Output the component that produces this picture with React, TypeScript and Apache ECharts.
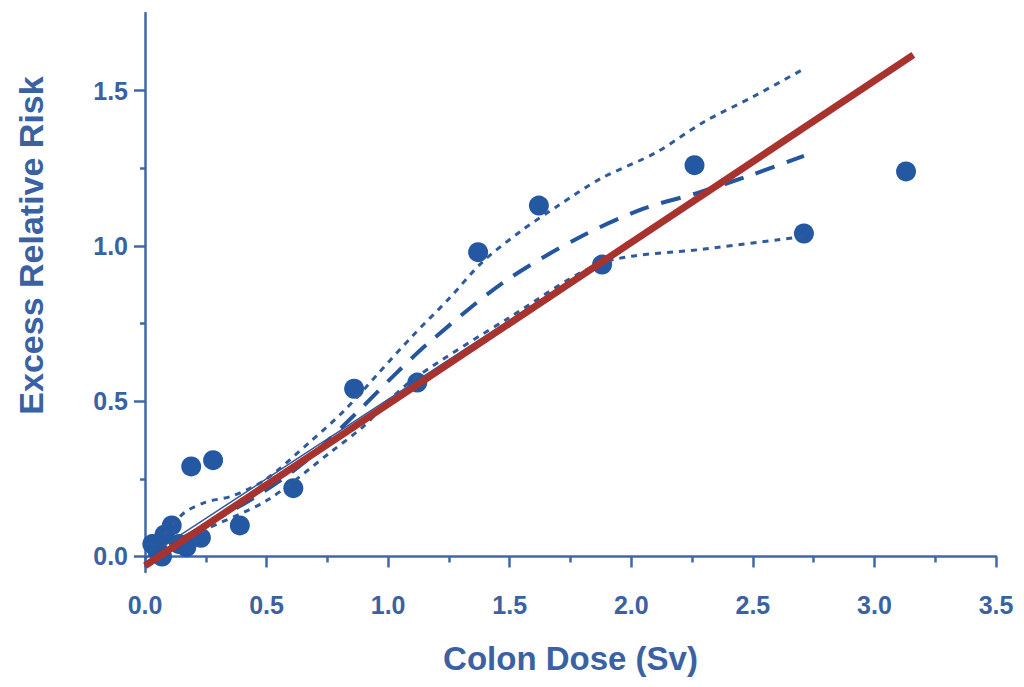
import React, { useEffect, useRef } from "react";
import * as echarts from "echarts";

const doseX = [0.03, 0.05, 0.07, 0.08, 0.11, 0.14, 0.17, 0.19, 0.23, 0.28, 0.39, 0.61, 0.86, 1.12, 1.37, 1.62, 1.88, 2.26, 2.71, 3.13];
const errY = [0.04, 0.02, 0.0, 0.07, 0.1, 0.04, 0.03, 0.29, 0.06, 0.31, 0.1, 0.22, 0.54, 0.56, 0.98, 1.13, 0.94, 1.26, 1.04, 1.24];

const upperCI = [[0.08, 0.07], [0.16, 0.14], [0.25, 0.175], [0.36, 0.195], [0.5, 0.25], [0.68, 0.37], [0.82, 0.47], [0.96, 0.59], [1.1, 0.71], [1.25, 0.83], [1.39, 0.95], [1.55, 1.05], [1.7, 1.13], [1.87, 1.215], [2.1, 1.3], [2.3, 1.4], [2.5, 1.48], [2.71, 1.57]];
const lowerCI = [[0.1, 0.02], [0.23, 0.08], [0.5, 0.18], [0.77, 0.34], [0.9, 0.42], [1.0, 0.5], [1.12, 0.58], [1.5, 0.77], [1.88, 0.945], [2.3, 0.99], [2.71, 1.03]];
const smoothFit = [[0.02, 0.0], [0.2, 0.08], [0.45, 0.19], [0.65, 0.3], [0.88, 0.47], [1.02, 0.58], [1.17, 0.69], [1.47, 0.88], [1.78, 1.025], [2.05, 1.12], [2.27, 1.17], [2.5, 1.23], [2.71, 1.29]];
const thinLinear = [[0.0, -0.005], [1.88, 0.955]];
const linearFit = [[0.0, -0.03], [3.16, 1.615]];

const yMajor = [0, 0.5, 1.0, 1.5];
const yMinor = [0.25, 0.75, 1.25];

const TEXT = "#3a62a2";
const AXIS = "#3d68aa";
const DOT = "#2458a2";
const LINE = "#2f5a9c";
const RED = "#a8332e";
const FONT = "Liberation Sans";

export default function App() {
  const ref = useRef<HTMLDivElement>(null);
  useEffect(() => {
    const chart = echarts.init(ref.current!, null, { renderer: "svg" });
    const yBase = {
      type: "value",
      min: -0.05,
      max: 1.75,
      position: "left",
      splitLine: { show: false },
    };
    chart.setOption({
      animation: false,
      backgroundColor: "#ffffff",
      grid: { left: 145, right: 28, top: 13, bottom: 115 },
      xAxis: {
        type: "value",
        min: 0,
        max: 3.5,
        interval: 0.5,
        name: "Colon Dose (Sv)",
        nameLocation: "middle",
        nameGap: 70,
        nameTextStyle: { color: TEXT, fontFamily: FONT, fontWeight: "bold", fontSize: 33 },
        axisLine: { lineStyle: { color: AXIS, width: 2.5 } },
        axisTick: { inside: false, length: 11, lineStyle: { color: AXIS, width: 2.5 } },
        minorTick: { show: true, splitNumber: 2, length: 6, lineStyle: { color: AXIS, width: 2.5 } },
        axisLabel: {
          color: TEXT,
          fontFamily: FONT,
          fontWeight: "bold",
          fontSize: 25,
          margin: 20,
          formatter: (v: number) => v.toFixed(1),
        },
        splitLine: { show: false },
      },
      yAxis: [
        {
          ...yBase,
          name: "Excess Relative Risk",
          nameLocation: "middle",
          nameGap: 97,
          nameRotate: 90,
          nameTextStyle: {
            color: TEXT,
            fontFamily: FONT,
            fontWeight: "bold",
            fontSize: 34,
            padding: [0, 0, 0, 94],
          },
          axisLine: { show: true, lineStyle: { color: AXIS, width: 2.5 } },
          axisTick: { show: true, length: 11, customValues: yMajor, lineStyle: { color: AXIS, width: 2.5 } },
          axisLabel: {
            color: TEXT,
            fontFamily: FONT,
            fontWeight: "bold",
            fontSize: 25,
            margin: 17,
            customValues: yMajor,
            formatter: (v: number) => v.toFixed(1),
          },
        },
        {
          ...yBase,
          offset: 0,
          axisLine: { show: false },
          axisTick: { show: true, length: 5, customValues: yMinor, lineStyle: { color: AXIS, width: 2.5 } },
          axisLabel: { show: false },
        },
      ],
      series: [
        {
          type: "scatter",
          data: doseX.map((x, i) => [x, errY[i]]),
          symbolSize: 20,
          itemStyle: { color: DOT, opacity: 1 },
          z: 2,
        },
        {
          type: "line",
          data: thinLinear,
          showSymbol: false,
          lineStyle: { color: LINE, width: 1.5 },
          z: 3,
        },
        {
          type: "line",
          data: upperCI,
          smooth: 0.3,
          showSymbol: false,
          lineStyle: { color: LINE, width: 3, type: [6, 6] },
          z: 3,
        },
        {
          type: "line",
          data: lowerCI,
          smooth: 0.3,
          showSymbol: false,
          lineStyle: { color: LINE, width: 3, type: [6, 6] },
          z: 3,
        },
        {
          type: "line",
          data: smoothFit,
          smooth: 0.3,
          showSymbol: false,
          lineStyle: { color: "#24569f", width: 4, type: [20, 13] },
          z: 3,
        },
        {
          type: "line",
          data: linearFit,
          showSymbol: false,
          lineStyle: { color: RED, width: 7 },
          z: 4,
        },
      ],
    });
    return () => chart.dispose();
  }, []);
  return (
    <div
      ref={ref}
      style={{ position: "absolute", left: 0, top: 0, width: 1024, height: 687 }}
    />
  );
}
